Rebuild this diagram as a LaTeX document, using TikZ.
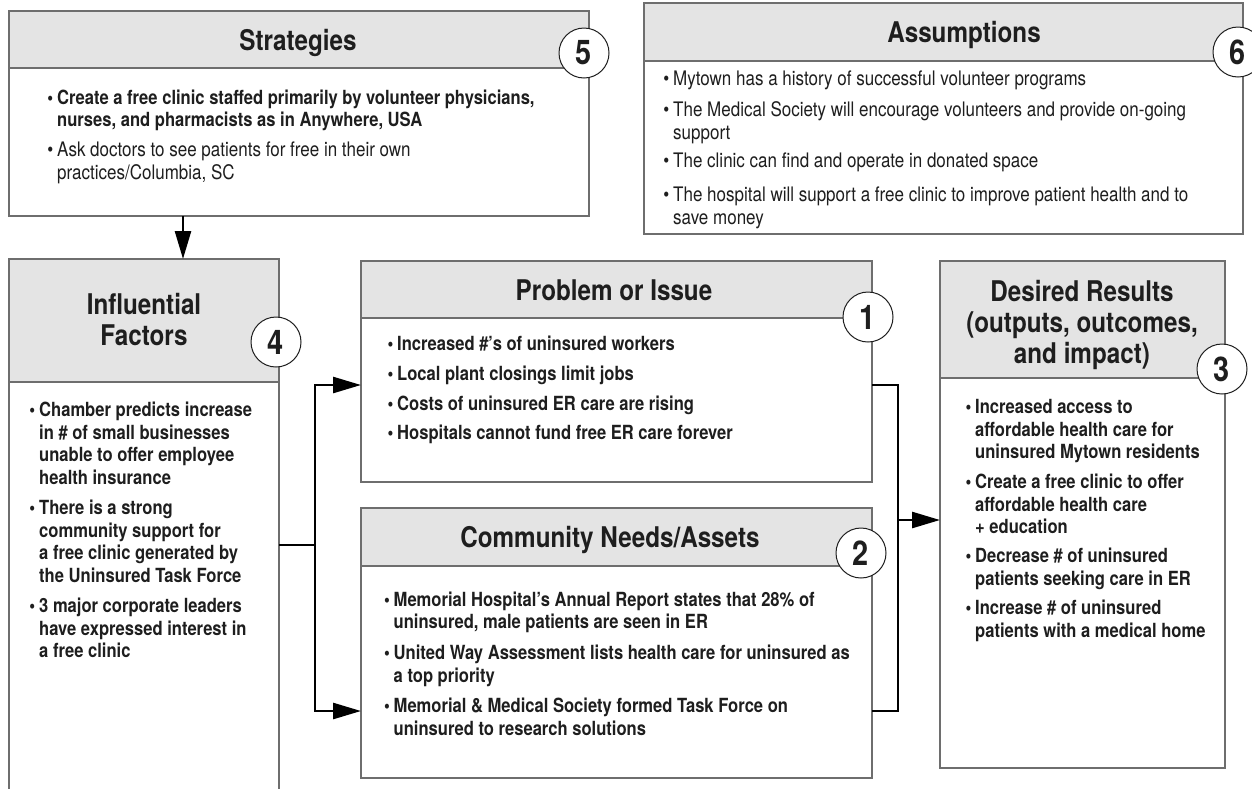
\documentclass[tikz,border=0pt]{standalone}
\usepackage{fontspec}
\setmainfont{TeX Gyre Heros}[FakeStretch=0.85]
\usetikzlibrary{arrows.meta}
\definecolor{hdrgray}{HTML}{E4E4E4}
\definecolor{edgegray}{HTML}{6E6E6E}
\definecolor{ink}{HTML}{1E1E1E}
\newcommand\itm[5]{%
  \node[#2] (#1) at (#3,#4) {\begin{tabular}[t]{@{}l@{}}#5\end{tabular}};
  \node[#2, anchor=base east] (#1-b) at ([xshift=-3.5pt]#1.base west) {\textbullet};
}
\newcommand\ttlnode[4]{%
  \node[ttl] (#1) at (#2,#3) {\begin{tabular}[t]{@{}c@{}}#4\end{tabular}};
}
\begin{document}
\begin{tikzpicture}[x=1pt,y=-1pt,
  boxframe/.style={draw=edgegray, line width=1.3pt, fill=white, anchor=north west, inner sep=0, outer sep=0},
  hdrbar/.style={draw=edgegray, line width=1.3pt, fill=hdrgray, anchor=north west, inner sep=0, outer sep=0},
  ttl/.style={font=\bfseries\fontsize{28.5}{31}\selectfont, text=ink, inner sep=0, anchor=base},
  bod/.style={font=\bfseries\fontsize{19.5}{22.5}\selectfont, text=ink, inner sep=0, anchor=base west},
  reg/.style={font=\fontsize{20}{22.5}\selectfont, text=ink, inner sep=0, anchor=base west},
  num/.style={circle, draw=ink, line width=1pt, fill=white, minimum size=50pt, inner sep=0, font=\bfseries\fontsize{34}{34}\selectfont, text=ink},
  conn/.style={draw=black, line width=2.6pt},
  arr/.style={conn, -{Triangle[length=28pt,width=16pt]}},
]
\fill[white] (0,0) rectangle (1252,788);
\useasboundingbox (0,0) rectangle (1252,788);

% ---------- boxes ----------
\node[boxframe, minimum width=580pt, minimum height=205pt] (strat) at (9,11) {};
\node[hdrbar, minimum width=580pt, minimum height=57pt] (strat-h) at (9,11) {};

\node[boxframe, minimum width=599pt, minimum height=231pt] (assu) at (644,3) {};
\node[hdrbar, minimum width=599pt, minimum height=58pt] (assu-h) at (644,3) {};

\node[boxframe, minimum width=270pt, minimum height=540pt] (infl) at (9,259) {};
\node[hdrbar, minimum width=270pt, minimum height=123pt] (infl-h) at (9,259) {};

\node[boxframe, minimum width=511pt, minimum height=221pt] (prob) at (361,261) {};
\node[hdrbar, minimum width=511pt, minimum height=57pt] (prob-h) at (361,261) {};

\node[boxframe, minimum width=511pt, minimum height=270pt] (comm) at (361,508) {};
\node[hdrbar, minimum width=511pt, minimum height=58pt] (comm-h) at (361,508) {};

\node[boxframe, minimum width=285pt, minimum height=507pt] (des) at (940,261) {};
\node[hdrbar, minimum width=285pt, minimum height=117pt] (des-h) at (940,261) {};

% ---------- titles ----------
\ttlnode{strat-t}{298}{50.5}{Strategies}
\ttlnode{assu-t}{964}{42.5}{Assumptions}
\ttlnode{infl-t}{144}{314.5}{Influential\\Factors}
\ttlnode{prob-t}{614}{300.5}{Problem or Issue}
\ttlnode{comm-t}{610}{547}{Community Needs/Assets}
\ttlnode{des-t}{1082}{301.5}{Desired Results\\(outputs, outcomes,\\and impact)}

% ---------- strategies ----------
\itm{s1}{bod}{57}{104}{Create a free clinic staffed primarily by volunteer physicians,\\nurses, and pharmacists as in Anywhere, USA}
\itm{s2}{reg}{57}{156.5}{Ask doctors to see patients for free in their own\\practices/Columbia, SC}

% ---------- assumptions ----------
\itm{a1}{reg}{673}{85.5}{Mytown has a history of successful volunteer programs}
\itm{a2}{reg}{673}{116.5}{The Medical Society will encourage volunteers and provide on-going\\support}
\itm{a3}{reg}{673}{167.5}{The clinic can find and operate in donated space}
\itm{a4}{reg}{673}{201.5}{The hospital will support a free clinic to improve patient health and to\\save money}

% ---------- influential factors ----------
\itm{f1}{bod}{39}{416.5}{Chamber predicts increase\\in \# of small businesses\\unable to offer employee\\health insurance}
\itm{f2}{bod}{39}{514.5}{There is a strong\\community support for\\a free clinic generated by\\the Uninsured Task Force}
\itm{f3}{bod}{39}{612.5}{3 major corporate leaders\\have expressed interest in\\a free clinic}

% ---------- problem ----------
\itm{p1}{bod}{397}{350.5}{Increased \#'s of uninsured workers}
\itm{p2}{bod}{397}{380.5}{Local plant closings limit jobs}
\itm{p3}{bod}{397}{410}{Costs of uninsured ER care are rising}
\itm{p4}{bod}{397}{439.5}{Hospitals cannot fund free ER care forever}

% ---------- community ----------
\itm{c1}{bod}{393.5}{606}{Memorial Hospital's Annual Report states that 28\% of\\uninsured, male patients are seen in ER}
\itm{c2}{bod}{393.5}{659.5}{United Way Assessment lists health care for uninsured as\\a top priority}
\itm{c3}{bod}{393.5}{712.5}{Memorial \& Medical Society formed Task Force on\\uninsured to research solutions}

% ---------- desired results ----------
\itm{d1}{bod}{975}{413.5}{Increased access to\\affordable health care for\\uninsured Mytown residents}
\itm{d2}{bod}{975}{488.5}{Create a free clinic to offer\\affordable health care\\+ education}
\itm{d3}{bod}{975}{562.5}{Decrease \# of uninsured\\patients seeking care in ER}
\itm{d4}{bod}{975}{614.5}{Increase \# of uninsured\\patients with a medical home}

% ---------- connectors ----------
\coordinate (ya) at (0,385);
\coordinate (yb) at (0,711);
\coordinate (jl) at (315,545);
\coordinate (jr) at (898,520);
\draw[arr] ([xshift=174pt]strat.south west) -- ([xshift=174pt]infl.north west);
\draw[conn] (jl -| infl.east) -- (jl);
\draw[arr, line join=miter] (jl) |- (prob.west |- ya);
\draw[arr, line join=miter] (jl) |- (comm.west |- yb);
\draw[conn, line join=miter] (prob.east |- ya) -| (jr);
\draw[conn, line join=miter] (comm.east |- yb) -| (jr);
\draw[arr] (jr) -- (des.west |- jr);

% ---------- number circles ----------
\node[num] (n5) at (584,53) {5};
\node[num] (n6) at (1238,52) {6};
\node[num] (n4) at (276,342) {4};
\node[num] (n1) at (868,317) {1};
\node[num] (n2) at (861,553) {2};
\node[num] (n3) at (1222,369) {3};
\end{tikzpicture}
\end{document}
